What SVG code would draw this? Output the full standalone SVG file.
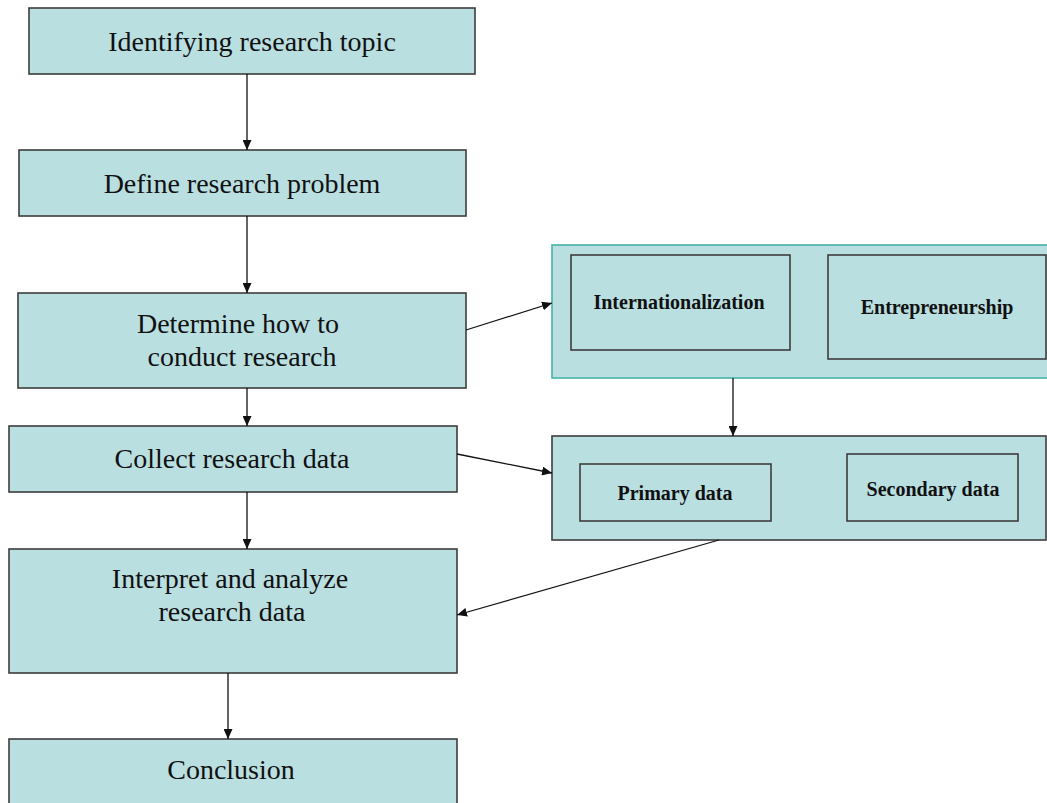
<svg xmlns="http://www.w3.org/2000/svg" width="1047" height="803" viewBox="0 0 1047 803">
  <style>
    .box { fill: #b9dfe1; stroke: #3d3d3d; stroke-width: 1.6; }
    .outer-teal { fill: #b9dfe1; stroke: #45b3a9; stroke-width: 1.6; }
    .main { font-family: "Liberation Serif", "Times New Roman", serif; font-size: 28px; fill: #111; text-anchor: middle; }
    .sub { font-family: "Liberation Serif", "Times New Roman", serif; font-size: 20px; font-weight: bold; fill: #111; text-anchor: middle; }
    .link { stroke: #111; stroke-width: 1.3; fill: none; marker-end: url(#arrow); }
  </style>
  <defs>
    <marker id="arrow" markerUnits="userSpaceOnUse" markerWidth="11" markerHeight="9" refX="10" refY="4.5" orient="auto">
      <path d="M0,0 L10,4.5 L0,9 Z" fill="#111"/>
    </marker>
  </defs>
  <rect width="1047" height="803" fill="#ffffff"/>

  <g id="identify-topic">
    <rect class="box" x="29" y="8" width="446" height="66"/>
    <text class="main" x="252" y="51">Identifying research topic</text>
  </g>

  <g id="define-problem">
    <rect class="box" x="19" y="150" width="447" height="66"/>
    <text class="main" x="242" y="193">Define research problem</text>
  </g>

  <g id="determine-how">
    <rect class="box" x="18" y="293" width="448" height="95"/>
    <text class="main" x="238" y="333">Determine how to</text>
    <text class="main" x="242" y="366">conduct research</text>
  </g>

  <g id="collect-data">
    <rect class="box" x="9" y="426" width="448" height="66"/>
    <text class="main" x="232" y="468">Collect research data</text>
  </g>

  <g id="interpret-analyze">
    <rect class="box" x="9" y="549" width="448" height="124"/>
    <text class="main" x="230" y="588">Interpret and analyze</text>
    <text class="main" x="232" y="621">research data</text>
  </g>

  <g id="conclusion">
    <rect class="box" x="9" y="739" width="448" height="70"/>
    <text class="main" x="231" y="779">Conclusion</text>
  </g>

  <g id="research-areas">
    <rect class="outer-teal" x="552" y="245" width="500" height="133"/>
    <g id="internationalization">
      <rect class="box" x="571" y="255" width="219" height="95"/>
      <text class="sub" x="679" y="309">Internationalization</text>
    </g>
    <g id="entrepreneurship">
      <rect class="box" x="828" y="255" width="218" height="104"/>
      <text class="sub" x="937" y="314">Entrepreneurship</text>
    </g>
  </g>

  <g id="data-sources">
    <rect class="box" x="552" y="436" width="494" height="104"/>
    <g id="primary-data">
      <rect class="box" x="580" y="464" width="191" height="57"/>
      <text class="sub" x="675" y="500">Primary data</text>
    </g>
    <g id="secondary-data">
      <rect class="box" x="847" y="454" width="171" height="67"/>
      <text class="sub" x="933" y="496">Secondary data</text>
    </g>
  </g>

  <g id="connectors">
    <line class="link" x1="247" y1="74" x2="247" y2="150"/>
    <line class="link" x1="247" y1="216" x2="247" y2="293"/>
    <line class="link" x1="247" y1="388" x2="247" y2="426"/>
    <line class="link" x1="247" y1="492" x2="247" y2="549"/>
    <line class="link" x1="228" y1="673" x2="228" y2="739"/>
    <line class="link" x1="466" y1="330" x2="552" y2="303"/>
    <line class="link" x1="457" y1="454" x2="552" y2="473"/>
    <line class="link" x1="733" y1="378" x2="733" y2="436"/>
    <line class="link" x1="719" y1="540" x2="457" y2="615"/>
  </g>
</svg>
